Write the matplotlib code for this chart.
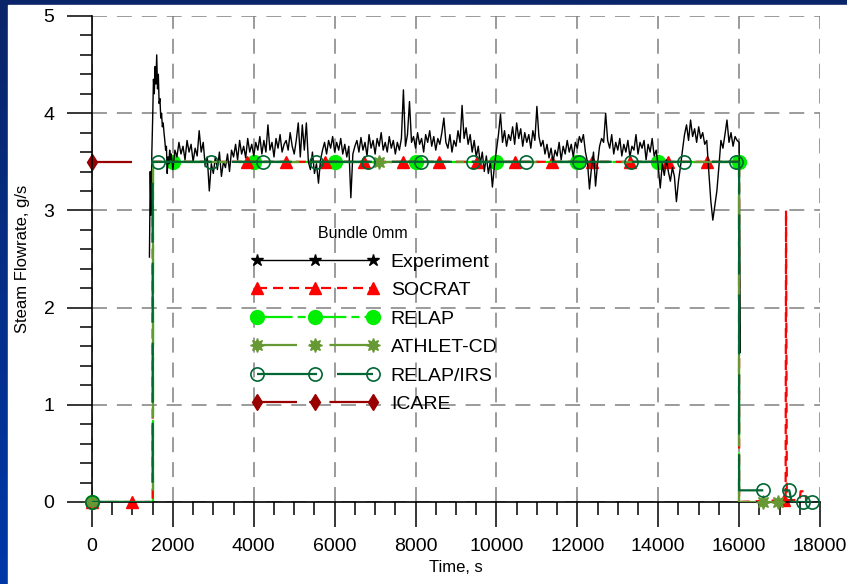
import numpy as np
import matplotlib
matplotlib.use('Agg')
import matplotlib.pyplot as plt
from matplotlib.lines import Line2D
from matplotlib.patches import Rectangle
from matplotlib.ticker import MultipleLocator
from matplotlib.colors import LinearSegmentedColormap

plt.rcParams['font.family'] = ['Liberation Sans', 'DejaVu Sans']

# measured steam flow, start-up peak (20 s steps)
rise_time = [1420, 1440, 1460, 1480, 1500, 1520, 1540, 1560, 1580, 1600, 1620, 1640, 1660, 1680,
             1700, 1720, 1740, 1760, 1780, 1800, 1820, 1840, 1860, 1880, 1900, 1920, 1940, 1960, 1980]
rise_flow = [2.52, 3.40, 2.95, 3.60, 3.95, 4.35, 4.20, 4.48, 4.30, 4.60, 4.25, 4.40, 4.10, 4.15,
             3.95, 4.00, 3.86, 3.90, 3.80, 3.72, 3.62, 3.66, 3.38, 3.55, 3.48, 3.62, 3.52, 3.58, 3.50]

# measured steam flow 2000..15950 s, one row per 1000 s (50 s steps)
plateau_flow = [
    3.42, 3.62, 3.55, 3.70, 3.58, 3.66, 3.52, 3.72, 3.60, 3.68, 3.50, 3.64, 3.56, 3.82, 3.60, 3.70, 3.45, 3.55, 3.20, 3.48,
    3.38, 3.55, 3.42, 3.60, 3.35, 3.50, 3.44, 3.58, 3.40, 3.62, 3.55, 3.68, 3.52, 3.72, 3.58, 3.66, 3.54, 3.74, 3.60, 3.68,
    3.56, 3.70, 3.62, 3.76, 3.58, 3.72, 3.60, 3.88, 3.62, 3.70, 3.55, 3.74, 3.64, 3.78, 3.60, 3.68, 3.72, 3.62, 3.80, 3.66,
    3.58, 3.72, 3.90, 3.55, 3.88, 3.62, 3.90, 3.50, 3.42, 3.60, 3.38, 3.48, 3.28, 3.52, 3.62, 3.70, 3.58, 3.72, 3.64, 3.76,
    3.60, 3.70, 3.62, 3.74, 3.58, 3.68, 3.55, 3.66, 3.13, 3.58, 3.66, 3.72, 3.60, 3.75, 3.62, 3.70, 3.56, 3.78, 3.64, 3.72,
    3.58, 3.74, 3.66, 3.80, 3.62, 3.70, 3.60, 3.76, 3.64, 3.72, 3.58, 3.70, 3.62, 3.74, 4.24, 3.66, 3.78, 4.12, 3.70, 3.76,
    3.64, 3.80, 3.68, 3.74, 3.60, 3.78, 3.70, 3.82, 3.66, 3.76, 3.62, 3.74, 3.68, 3.80, 3.95, 3.70, 3.64, 3.78, 3.60, 3.72,
    3.66, 3.82, 3.70, 4.08, 3.74, 3.85, 3.68, 3.78, 3.60, 3.72, 3.55, 3.66, 3.48, 3.60, 3.40, 3.56, 3.38, 3.50, 3.24, 3.46,
    3.62, 3.78, 3.99, 3.70, 3.82, 3.66, 3.78, 3.72, 3.86, 3.68, 3.90, 3.74, 3.84, 3.66, 3.80, 3.70, 3.78, 3.64, 3.82, 3.72,
    4.07, 3.76, 3.66, 3.72, 3.58, 3.68, 3.54, 3.64, 3.50, 3.62, 3.56, 3.70, 3.52, 3.66, 3.58, 3.72, 3.60, 3.68, 3.55, 3.70,
    3.64, 3.76, 3.70, 3.78, 3.60, 3.50, 3.22, 3.44, 3.60, 3.25, 3.48, 3.66, 3.74, 3.70, 4.00, 3.72, 3.64, 3.78, 3.58, 3.70,
    3.62, 3.74, 3.56, 3.68, 3.60, 3.72, 3.55, 3.66, 3.62, 3.78, 3.58, 3.70, 3.64, 3.72, 3.52, 3.68, 3.60, 3.74, 3.56, 3.62,
    3.45, 3.23, 3.48, 3.36, 3.52, 3.40, 3.30, 3.44, 3.35, 3.09, 3.30, 3.45, 3.62, 3.78, 3.88, 3.72, 3.93, 3.76, 3.84, 3.70,
    3.86, 3.74, 3.80, 3.68, 3.72, 3.40, 3.10, 2.90, 3.05, 3.20, 3.45, 3.72, 3.64, 3.78, 3.93, 3.70, 3.80, 3.66, 3.76, 3.72,
]
plateau_time = list(range(2000, 16000, 50))

# end of test, flow cut
end_time = [16000, 16030]
end_flow = [3.70, 1.54]

exp_time = rise_time + plateau_time + end_time
exp_flow = rise_flow + plateau_flow + end_flow

# code results
socrat_time = [0, 1500, 1500, 16000, 16000, 17150, 17160, 17180, 17500, 17520, 17640, 17660]
socrat_flow = [0, 0, 3.5, 3.5, 0, 0.02, 3.0, 0.02, 0.02, 0.11, 0.11, 0]
socrat_mark_t = [0, 990, 3830, 4790, 5750, 6720, 7680, 8580, 9530, 10450, 11380, 12370, 13310, 14250, 15210, 17120]
socrat_mark_y = [0, 0, 3.5, 3.5, 3.5, 3.5, 3.5, 3.5, 3.5, 3.5, 3.5, 3.5, 3.5, 3.5, 3.5, 0.02]

relap_time = [0, 1500, 1500, 16000, 16000, 16150]
relap_flow = [0, 0, 3.5, 3.5, 0, 0]
relap_mark_t = [0, 2000, 4000, 6000, 8000, 10000, 12000, 14000, 16000]
relap_mark_y = [0, 3.5, 3.5, 3.5, 3.5, 3.5, 3.5, 3.5, 3.5]

athlet_time = [0, 1500, 1500, 16000, 16000, 17100]
athlet_flow = [0, 0, 3.5, 3.5, 0, 0]
athlet_mark_t = [0, 7090, 16590, 16960]
athlet_mark_y = [0, 3.5, 0, 0]

irs_time = [0, 1500, 1500, 16000, 16000, 17240, 17300, 17800]
irs_flow = [0, 0, 3.5, 3.5, 0.12, 0.12, 0, 0]
irs_mark_t = [0, 1630, 2930, 4230, 5530, 6830, 8130, 9430, 10730, 12030, 13330, 14630, 15930,
              16590, 17240, 17580, 17800]
irs_mark_y = [0, 3.5, 3.5, 3.5, 3.5, 3.5, 3.5, 3.5, 3.5, 3.5, 3.5, 3.5, 3.5, 0.12, 0.12, 0, 0]

icare_time = [0, 1090]
icare_flow = [3.5, 3.5]

# colours and dash patterns for each code
red = '#ff0000'
lime = '#00ee00'
olive = '#669933'
darkgreen = '#006633'
darkred = '#990000'
lw = 1.6
ls_socrat = (0, (4.5, 2.7))
ls_relap = (0, (16, 2.3, 3.6, 2.3))
ls_athlet = (0, (18, 5.5, 3.6, 5.5))
ls_irs = (0, (27, 9))
ls_icare = (0, (18, 5.5, 3.6, 5.5))

fig = plt.figure(figsize=(8.47, 5.84), dpi=100)

# slide background behind the chart
bg = fig.add_axes([0, 0, 1, 1], zorder=-5)
grad = np.linspace(0, 1, 256).reshape(-1, 1)
cmap = LinearSegmentedColormap.from_list('slide', ['#0a2468', '#0038a8'])
bg.imshow(grad, aspect='auto', extent=[0, 1, 0, 1], cmap=cmap, origin='upper')
bg.add_patch(Rectangle((8 / 847, 0), 1, (584 - 5) / 584, color='white'))
bg.set_xlim(0, 1)
bg.set_ylim(0, 1)
bg.axis('off')

ax = fig.add_axes([92 / 847, (584 - 502) / 584, (820 - 92) / 847, (502 - 16) / 584])
ax.patch.set_alpha(0)

ax.plot(icare_time, icare_flow, color=darkred, lw=lw, ls=ls_icare, zorder=1.5)
ax.plot([0], [3.5], ls='none', marker='d', ms=8, color=darkred, clip_on=False, zorder=1.5)

ax.plot(relap_time, relap_flow, color=lime, lw=lw, ls=ls_relap, zorder=2)
ax.plot(relap_mark_t, relap_mark_y, ls='none', marker='o', ms=10, color=lime, clip_on=False, zorder=2)

ax.plot(socrat_time, socrat_flow, color=red, lw=lw, ls=ls_socrat, zorder=2.1)
ax.plot(socrat_mark_t, socrat_mark_y, ls='none', marker='^', ms=8, color=red, clip_on=False, zorder=2.1)

ax.plot(exp_time, exp_flow, color='black', lw=1.0, zorder=2.5)

ax.plot(athlet_time, athlet_flow, color=olive, lw=lw, ls=ls_athlet, zorder=2.6)
ax.plot(athlet_mark_t, athlet_mark_y, ls='none', marker=(8, 1, 0), ms=10, color=olive, clip_on=False, zorder=2.6)

ax.plot(irs_time, irs_flow, color=darkgreen, lw=lw, ls=ls_irs, zorder=2.7)
ax.plot(irs_mark_t, irs_mark_y, ls='none', marker='o', ms=9.5, mfc='none', mec=darkgreen, mew=1.2,
        clip_on=False, zorder=2.7)

ax.set_xlim(0, 18000)
ax.set_ylim(0, 5)
ax.xaxis.set_major_locator(MultipleLocator(2000))
ax.xaxis.set_minor_locator(MultipleLocator(500))
ax.yaxis.set_major_locator(MultipleLocator(1))
ax.yaxis.set_minor_locator(MultipleLocator(0.2))
ax.tick_params(which='major', direction='out', length=18, width=1.1, labelsize=14)
ax.tick_params(which='minor', direction='out', length=9, width=1.1)
ax.tick_params(axis='x', which='major', pad=8)
ax.tick_params(axis='y', which='major', pad=9)

ax.spines['top'].set_visible(False)
ax.spines['right'].set_visible(False)
ax.spines['left'].set_linewidth(1.2)
ax.spines['bottom'].set_linewidth(1.2)
ax.grid(True, which='major', color='#808080', lw=1.1, ls=(0, (9.8, 6.5)))

ax.set_xlabel('Time, s', fontsize=12)
ax.set_ylabel('Steam Flowrate, g/s', fontsize=12)
ax.xaxis.set_label_coords(0.5, -0.12)
ax.yaxis.set_label_coords(-0.085, 0.5)

# legend entries show the line style with three markers
handles = [
    Line2D([], [], color='black', lw=1.0, marker='*', ms=9),
    Line2D([], [], color=red, lw=lw, ls=ls_socrat, marker='^', ms=8),
    Line2D([], [], color=lime, lw=lw, ls=ls_relap, marker='o', ms=10),
    Line2D([], [], color=olive, lw=lw, ls=ls_athlet, marker=(8, 1, 0), ms=10),
    Line2D([], [], color=darkgreen, lw=lw, ls=ls_irs, marker='o', ms=9.5, mfc='none', mew=1.2),
    Line2D([], [], color=darkred, lw=lw, ls=ls_icare, marker='d', ms=8),
]
labels = ['Experiment', 'SOCRAT', 'RELAP', 'ATHLET-CD', 'RELAP/IRS', 'ICARE']
leg = ax.legend(handles, labels, loc='upper left', bbox_to_anchor=(0.219, 0.512), frameon=False,
                numpoints=3, handlelength=6.57, handletextpad=0.6, labelspacing=0.56,
                borderpad=0, borderaxespad=0, fontsize=14)
ax.text(0.372, 0.552, 'Bundle 0mm', transform=ax.transAxes, fontsize=11.5, ha='center', va='center')

fig.savefig('out.png', dpi=100)
